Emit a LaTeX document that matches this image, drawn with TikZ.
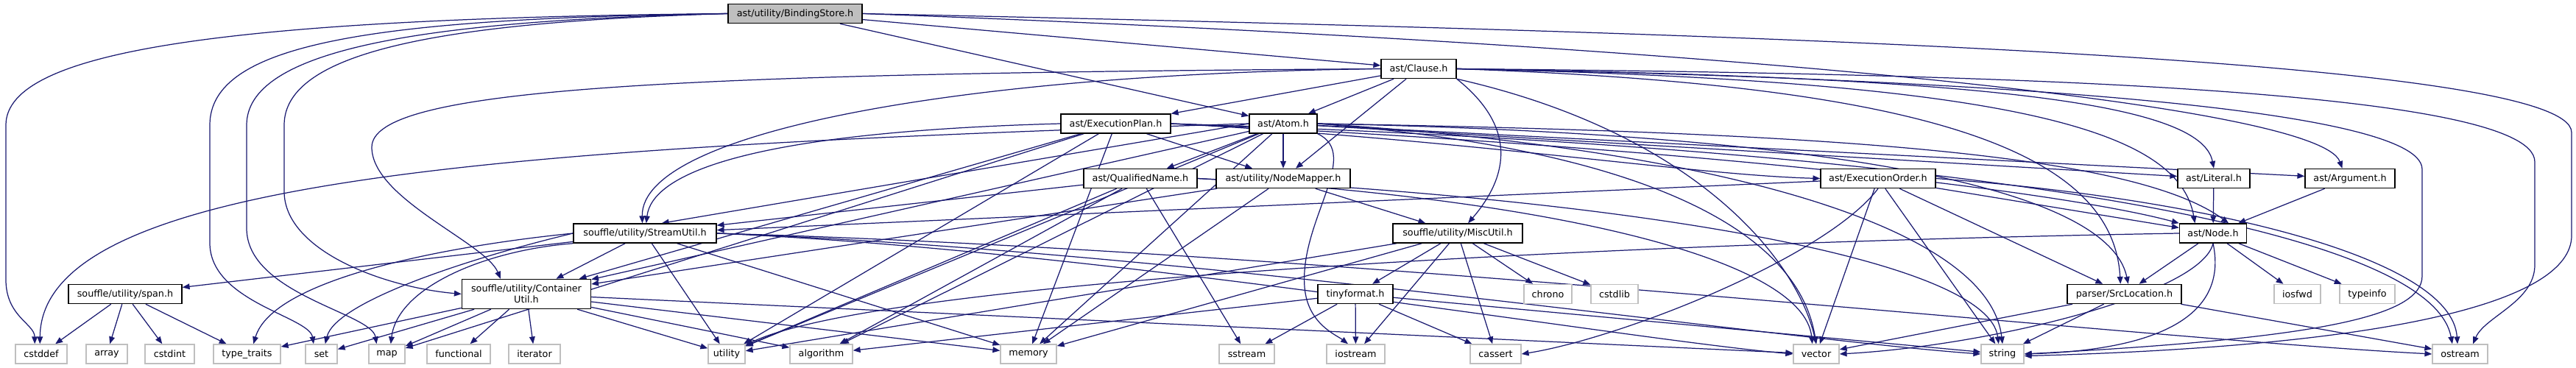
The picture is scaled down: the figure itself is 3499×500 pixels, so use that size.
\documentclass[tikz,border=0pt]{standalone}
\usepackage{fontspec}
\setmainfont{DejaVu Sans}
\usetikzlibrary{arrows.meta,backgrounds}
\definecolor{lnk}{HTML}{191970}
\definecolor{grey75}{HTML}{BFBFBF}
\tikzset{
  file/.style={draw=black,line width=0.85pt,fill=white,inner sep=0pt,minimum height=0.52cm,
    align=center,font=\fontsize{7.26}{8.6}\selectfont},
  mainfile/.style={file,fill=grey75},
  sysfile/.style={file,draw=grey75},
  incl/.style={draw=lnk,line width=0.7pt,-{Triangle[length=5.6pt,width=4.4pt]}}
}

\begin{document}
\begin{tikzpicture}[x=0.02cm,y=0.02cm]
\useasboundingbox (0,0) rectangle (3499,500);

% project headers
\node[mainfile,minimum width=3.64cm] (bs) at (1080,481.5) {ast/utility/BindingStore.h};
\node[file,minimum width=2.04cm] (clause) at (1927,406.5) {ast/Clause.h};
\node[file,minimum width=2.98cm] (plan) at (1515.5,332) {ast/ExecutionPlan.h};
\node[file,minimum width=1.84cm] (atom) at (1743,332) {ast/Atom.h};
\node[file,minimum width=3.08cm] (qname) at (1549,257.5) {ast/QualifiedName.h};
\node[file,minimum width=3.64cm] (nmap) at (1743,257.5) {ast/utility/NodeMapper.h};
\node[file,minimum width=3.12cm] (eorder) at (2551,257.5) {ast/ExecutionOrder.h};
\node[file,minimum width=1.96cm] (literal) at (3007,257.5) {ast/Literal.h};
\node[file,minimum width=2.44cm] (argument) at (3192,257.5) {ast/Argument.h};
\node[file,minimum width=3.88cm] (sutil) at (876,183) {souffle/utility/StreamUtil.h};
\node[file,minimum width=3.52cm] (mutil) at (1980,183) {souffle/utility/MiscUtil.h};
\node[file,minimum width=1.82cm] (astnode) at (3006,183) {ast/Node.h};
\node[file,minimum width=3.08cm] (span) at (170,100.5) {souffle/utility/span.h};
\node[file,minimum width=3.5cm,minimum height=0.8cm] (cutil) at (715,100.5) {souffle/utility/Container\\Util.h};
\node[file,minimum width=2.04cm] (tfmt) at (1841,100.5) {tinyformat.h};
\node[file,minimum width=3.1cm] (srcloc) at (2885.5,100.5) {parser/SrcLocation.h};

% system headers
\node[sysfile,minimum width=1.3cm] (chrono) at (2102.5,100.5) {chrono};
\node[sysfile,minimum width=1.28cm] (cstdlib) at (2193,100.5) {cstdlib};
\node[sysfile,minimum width=1.26cm] (iosfwd) at (3120.5,100.5) {iosfwd};
\node[sysfile,minimum width=1.5cm] (typeinfo) at (3215.5,100.5) {typeinfo};
\node[sysfile,minimum width=1.4cm] (cstddef) at (56,19) {cstddef};
\node[sysfile,minimum width=1.12cm] (array) at (145,19) {array};
\node[sysfile,minimum width=1.34cm] (cstdint) at (230.5,19) {cstdint};
\node[sysfile,minimum width=1.82cm] (ttraits) at (335.5,19) {type\_traits};
\node[sysfile,minimum width=0.86cm] (set) at (436.5,19) {set};
\node[sysfile,minimum width=0.98cm] (map) at (525.5,19) {map};
\node[sysfile,minimum width=1.72cm] (functional) at (623,19) {functional};
\node[sysfile,minimum width=1.4cm] (iterator) at (726,19) {iterator};
\node[sysfile,minimum width=1.0cm] (utility) at (987,19) {utility};
\node[sysfile,minimum width=1.7cm] (algorithm) at (1115.5,19) {algorithm};
\node[sysfile,minimum width=1.52cm] (memory) at (1397,19) {memory};
\node[sysfile,minimum width=1.5cm] (sstream) at (1693.5,19) {sstream};
\node[sysfile,minimum width=1.58cm] (iostream) at (1841.5,19) {iostream};
\node[sysfile,minimum width=1.38cm] (cassert) at (2031.5,19) {cassert};
\node[sysfile,minimum width=1.24cm] (vector) at (2467,19) {vector};
\node[sysfile,minimum width=1.16cm] (string) at (2720,19) {string};
\node[sysfile,minimum width=1.5cm] (ostream) at (3341.5,19) {ostream};

\begin{pgfonlayer}{background}
% BindingStore.h
\draw[incl] (bs) -- (clause);
\draw[incl] (bs) -- (atom);
\draw[incl] (bs.east) .. controls (2300,440) and (3150,360) .. ([xshift=-6pt]argument.north);
\draw[incl] (bs.west) .. controls (600,470) and (386,430) .. (386,330) -- (386,240) .. controls (386,160) and (520,110) .. (cutil.west);
\draw[incl] (bs.west) .. controls (300,475) and (8,430) .. (8,330) -- (8,120) .. controls (8,70) and (47,60) .. ([xshift=-5pt]cstddef.north);
\draw[incl] (bs.west) .. controls (500,475) and (285,440) .. (285,330) -- (285,170) .. controls (285,90) and (420,70) .. ([xshift=-6pt]set.north);
\draw[incl] (bs.west) .. controls (560,472) and (335,430) .. (335,330) -- (335,190) .. controls (335,100) and (505,75) .. ([xshift=-8pt]map.north);
\draw[incl] (bs.east) .. controls (2400,455) and (3493,420) .. (3493,320) -- (3493,180) .. controls (3493,90) and (3250,30) .. ([yshift=-1.5pt]string.east);

% Clause.h
\draw[incl] (clause) -- (atom);
\draw[incl] (clause) -- (plan);
\draw[incl] (clause) -- (nmap);
\draw[incl] (clause.south east) .. controls (2070,320) and (2040,250) .. ([xshift=8pt]mutil.north);
\draw[incl] (clause.east) .. controls (2700,395) and (2990,360) .. (literal.north);
\draw[incl] (clause.east) .. controls (2750,390) and (2960,320) .. ([xshift=-14pt]astnode.north);
\draw[incl] (clause.east) .. controls (2600,385) and (2870,300) .. ([xshift=-3pt]srcloc.north);
\draw[incl] (clause.west) .. controls (900,400) and (505,380) .. (505,300) .. controls (505,230) and (660,170) .. ([xshift=-20pt]cutil.north);
\draw[incl] (clause.west) .. controls (1300,400) and (870,320) .. ([xshift=-2pt]sutil.north);
\draw[incl] (clause.east) .. controls (2700,400) and (3443,380) .. (3443,280) -- (3443,140) .. controls (3443,90) and (3375,70) .. ([xshift=10pt]ostream.north);
\draw[incl] (clause.east) .. controls (2600,395) and (3290,360) .. (3290,270) -- (3290,125) .. controls (3290,70) and (3150,40) .. (string.east);
\draw[incl] (clause.south east) .. controls (2300,320) and (2440,150) .. (vector.north);

% ExecutionPlan.h
\draw[incl] (plan.east) .. controls (2000,310) and (2300,262) .. (eorder.west);
\draw[incl] (plan.east) .. controls (2300,300) and (2800,240) .. (astnode.north west);
\draw[incl] (plan) -- (nmap);
\draw[incl] (plan) -- (cutil);
\draw[incl] (plan.west) .. controls (1000,320) and (885,260) .. ([xshift=1pt]sutil.north);
\draw[incl] (plan) -- (map);
\draw[incl] (plan) -- (memory);
\draw[incl] (plan.east) .. controls (2600,300) and (3300,200) .. ([xshift=-6pt]ostream.north);
\draw[incl] (plan) -- (utility);

% Atom.h
\draw[incl] (atom) -- (qname);
\draw[incl] (atom) -- (nmap);
\draw[incl] (atom) -- (literal);
\draw[incl] (atom) -- (argument);
\draw[incl] (atom.east) .. controls (2500,320) and (2900,290) .. ([xshift=12pt]astnode.north);
\draw[incl] (atom.east) .. controls (2400,320) and (2860,260) .. ([xshift=3pt]srcloc.north);
\draw[incl] (atom) -- (cutil);
\draw[incl] (atom.west) -- ([xshift=13pt]sutil.north);
\draw[incl] (atom.west) .. controls (700,300) and (56,260) .. ([xshift=-1pt]cstddef.north);
\draw[incl] (atom.south east) .. controls (1850,290) and (1765,200) .. (1772,110) .. controls (1776,60) and (1815,45) .. ([xshift=-6pt]iostream.north);
\draw[incl] (atom) -- (memory);
\draw[incl] (atom) -- (algorithm);
\draw[incl] (atom) -- (utility);
\draw[incl] (atom.east) .. controls (2300,300) and (2700,200) .. (string.north);
\draw[incl] (atom.east) .. controls (2200,300) and (2440,200) .. (vector.north);

% QualifiedName.h
\draw[incl] (qname) -- (sutil);
\draw[incl] (qname) -- (sstream);
\draw[incl] (qname) -- (utility);
\draw[incl] (qname) -- (algorithm);
\draw[incl] (qname.east) .. controls (2200,230) and (2700,150) .. ([xshift=-3pt]string.north);
\draw[incl] (qname.east) .. controls (2100,230) and (2450,150) .. ([xshift=-3pt]vector.north);

% NodeMapper.h
\draw[incl] (nmap) -- (mutil);
\draw[incl] (nmap) -- (cutil);
\draw[incl] (nmap) -- (memory);

% ExecutionOrder.h
\draw[incl] (eorder) -- (astnode);
\draw[incl] (eorder) -- (srcloc);
\draw[incl] (eorder) -- (sutil);
\draw[incl] (eorder.south) .. controls (2480,150) and (2200,40) .. (cassert.east);
\draw[incl] (eorder.east) .. controls (3000,230) and (3330,150) .. ([xshift=-2pt]ostream.north);
\draw[incl] (eorder) -- (string);
\draw[incl] (eorder) -- (vector);

\draw[incl] (literal) -- (astnode);
\draw[incl] (argument) -- (astnode);

% StreamUtil.h
\draw[incl] (sutil) -- (cutil);
\draw[incl] (sutil) -- (span);
\draw[incl] (sutil.west) .. controls (600,165) and (370,120) .. ([xshift=5pt]ttraits.north);
\draw[incl] (sutil.west) .. controls (640,150) and (455,90) .. ([xshift=3pt]set.north);
\draw[incl] (sutil.south west) .. controls (660,160) and (540,110) .. ([xshift=3pt]map.north);
\draw[incl] (sutil) -- (utility);
\draw[incl] (sutil) -- (memory);
\draw[incl] (sutil.east) .. controls (1800,160) and (2900,40) .. (ostream.west);
\draw[incl] (sutil.east) .. controls (1600,160) and (2400,40) .. (string.west);
\draw[incl] (sutil.east) .. controls (1500,160) and (2200,40) .. (vector.west);

% MiscUtil.h
\draw[incl] (mutil) -- (tfmt);
\draw[incl] (mutil) -- (chrono);
\draw[incl] (mutil) -- (cstdlib);
\draw[incl] (mutil) -- (cassert);
\draw[incl] (mutil) -- (iostream);
\draw[incl] (mutil) -- (memory);
\draw[incl] (mutil) -- (utility);

% Node.h
\draw[incl] (astnode) -- (srcloc);
\draw[incl] (astnode) -- (iosfwd);
\draw[incl] (astnode) -- (typeinfo);
\draw[incl] (astnode.south) .. controls (2990,100) and (2700,30) .. (vector.east);
\draw[incl] (astnode.south) .. controls (3025,80) and (2950,25) .. (string.east);
\draw[incl] (astnode.west) .. controls (2200,170) and (1200,120) .. (utility);

% ContainerUtil.h
\draw[incl] (cutil) -- (ttraits);
\draw[incl] (cutil) -- (set);
\draw[incl] (cutil) -- (map);
\draw[incl] (cutil) -- (functional);
\draw[incl] (cutil) -- (iterator);
\draw[incl] (cutil) -- (utility);
\draw[incl] (cutil) -- (algorithm);
\draw[incl] (cutil) -- (memory);
\draw[incl] (cutil) -- (vector);

% span.h
\draw[incl] (span) -- (cstddef);
\draw[incl] (span) -- (array);
\draw[incl] (span) -- (cstdint);
\draw[incl] (span) -- (ttraits);

% tinyformat.h
\draw[incl] (tfmt) -- (sstream);
\draw[incl] (tfmt) -- (iostream);
\draw[incl] (tfmt) -- (cassert);
\draw[incl] (tfmt) -- (algorithm);
\draw[incl] (tfmt) -- (string);

% SrcLocation.h
\draw[incl] (srcloc) -- (vector);
\draw[incl] (srcloc) -- (string);
\draw[incl] (srcloc) -- (ostream);
\end{pgfonlayer}
\end{tikzpicture}
\end{document}
